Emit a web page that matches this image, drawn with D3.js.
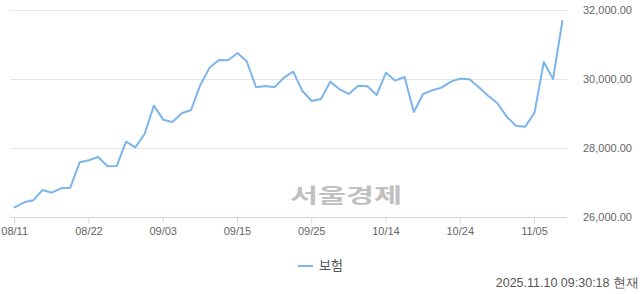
<!DOCTYPE html>
<html><head><meta charset="utf-8">
<script src="https://cdn.jsdelivr.net/npm/d3@7"></script>
<style>html,body{margin:0;padding:0;background:#fff;}svg{display:block;}</style>
</head><body>
<svg id="c" width="640" height="294"></svg>
<script>
const dates = ["08/11","08/12","08/13","08/14","08/18","08/19","08/20","08/21","08/22","08/25","08/26","08/27","08/28","08/29","09/01","09/02","09/03","09/04","09/05","09/08","09/09","09/10","09/11","09/12","09/15","09/16","09/17","09/18","09/19","09/22","09/23","09/24","09/25","09/26","09/29","09/30","10/01","10/02","10/10","10/13","10/14","10/15","10/16","10/17","10/20","10/21","10/22","10/23","10/24","10/27","10/28","10/29","10/30","10/31","11/03","11/04","11/05","11/06","11/07","11/10"];
const values = [26281,26426,26484,26783,26705,26832,26850,27586,27644,27740,27470,27479,28183,28020,28406,29227,28821,28754,29006,29102,29827,30329,30552,30543,30754,30514,29760,29798,29760,30038,30212,29653,29363,29421,29923,29701,29566,29807,29788,29537,30184,29952,30059,29044,29566,29672,29749,29923,30010,29990,29760,29517,29296,28908,28647,28618,29025,30493,30000,31682];
const xTicks = ["08/11","08/22","09/03","09/15","09/25","10/14","10/24","11/05"];
const yTicks = [26000,28000,30000,32000];
const seriesName = "보험";
const stamp = "2025.11.10 09:30:18 현재";
const watermark = "서울경제";

const svg = d3.select("#c");
const L = 10, R = 567, T = 10, B = 217;
const x = d3.scaleBand().domain(dates).range([L, R]).paddingInner(0).paddingOuter(0);
const xc = d => x(d) + x.bandwidth()/2;
const y = d3.scaleLinear().domain([26000, 32000]).range([B, T]);
const font = "'Liberation Sans', Arial, sans-serif";

// grid
svg.append("g").selectAll("line").data(yTicks.filter(v => v !== 26000)).join("line")
  .attr("x1", L).attr("x2", R).attr("y1", d => Math.round(y(d))+0.5).attr("y2", d => Math.round(y(d))+0.5)
  .attr("stroke", "#e6e6e6").attr("stroke-width", 1);

// watermark
svg.append("text").attr("x", 290).attr("y", 203).text(watermark)
  .attr("font-family", "'Noto Sans CJK KR', sans-serif").attr("font-weight", "bold")
  .attr("font-size", 20).attr("fill", "#c0c0c0")
  .attr("textLength", 112).attr("lengthAdjust", "spacingAndGlyphs");

// x axis
const xAxis = d3.axisBottom(x).tickValues(xTicks).tickSize(6).tickSizeOuter(0).tickPadding(4);
const gx = svg.append("g").attr("transform", `translate(0,${B+0.5})`).call(xAxis);
gx.select(".domain").attr("stroke", "#ccd6eb").attr("d", `M${L},0H${R}`);
gx.selectAll(".tick line").attr("stroke", "#ccd6eb");
gx.selectAll(".tick text").attr("fill", "#666").attr("font-size", 11).attr("font-family", font);

// y axis (right labels)
const yAxis = d3.axisRight(y).tickValues(yTicks).tickSize(0).tickPadding(0)
  .tickFormat(d => d3.format(",.2f")(d));
const gy = svg.append("g").attr("transform", `translate(583,0)`).call(yAxis);
gy.select(".domain").remove();
gy.selectAll(".tick text").attr("fill", "#666").attr("font-size", 11).attr("font-family", font).attr("x", 0);

// line
const line = d3.line().x((d,i) => xc(dates[i])).y(d => y(d));
svg.append("path").datum(values).attr("d", line).attr("fill", "none")
  .attr("stroke", "#7cb5ec").attr("stroke-width", 2).attr("stroke-linejoin", "round").attr("stroke-linecap", "round");

// legend
svg.append("line").attr("x1", 298).attr("x2", 313).attr("y1", 266).attr("y2", 266)
  .attr("stroke", "#7cb5ec").attr("stroke-width", 2);
svg.append("text").attr("x", 319).attr("y", 270).text(seriesName)
  .attr("font-family", "'Noto Sans CJK KR', sans-serif").attr("font-size", 13).attr("fill", "#555");

// timestamp
svg.append("text").attr("x", 639).attr("y", 287).attr("text-anchor", "end").text(stamp)
  .attr("font-family", font).attr("font-size", 12.5).attr("fill", "#555");
</script>
</body></html>
